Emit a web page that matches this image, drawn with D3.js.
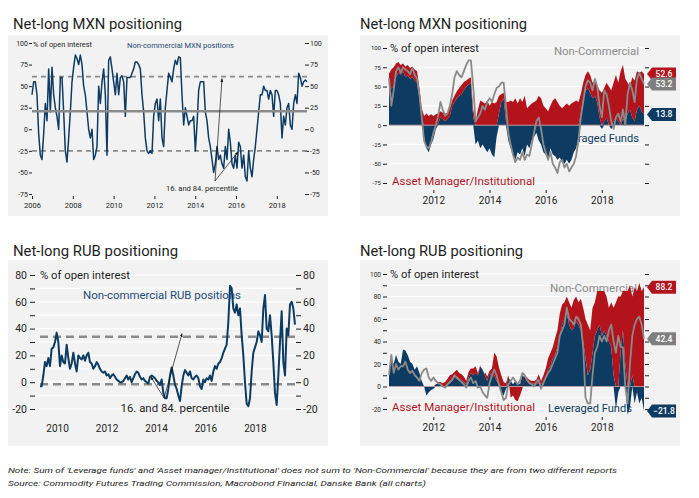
<!DOCTYPE html>
<html><head><meta charset="utf-8">
<script src="https://cdn.jsdelivr.net/npm/d3@7"></script>
<style>body{margin:0;background:#fff;} svg{display:block;font-family:Roboto,"Open Sans",sans-serif;}</style>
</head><body><svg id="c" width="699" height="498"></svg>
<script>
// ---------- DATA ----------
// Panel 1: Non-commercial MXN net positions (% of open interest), 2006.0 - 2019.48
const mxnNCRange = [2006.0, 2019.48];
const mxnNC = [40,55,55,40,-5,-30,-35,-5,30,10,
70,20,72,40,25,15,0,60,60,20,
-25,-38,-10,20,55,72,86,82,75,86,
75,50,40,20,0,-10,0,-35,-30,-20,
50,30,55,70,40,-30,80,84,70,55,
40,65,40,60,62,55,15,60,60,60,
65,70,78,78,75,70,40,20,-10,-25,
-28,-25,-28,15,30,35,10,35,-10,-20,
25,45,65,60,55,70,80,75,84,83,
40,5,25,15,5,10,10,15,-25,5,
45,55,55,55,20,10,-10,-20,-35,-50,
-40,-20,-35,-30,-40,-45,-20,-35,0,-15,
-40,-45,-30,-45,-15,-20,-45,-30,-55,-60,
-25,-45,-55,-35,-20,0,20,40,40,50,
45,45,35,45,40,15,45,45,40,30,
-10,15,5,25,30,5,0,30,40,30,
65,60,50,55,57,55];
const mxnPct = [-25, 61];   // 16th and 84th percentile
const mxnMean = 21;

// Panel 3: Non-commercial RUB net positions, 2009.31 - 2019.62
const rubNCRange = [2009.31, 2019.62];
const rubNC = [-3,-3,5,15,12,18,12,25,26,30,
37,30,12,20,15,14,28,18,10,14,
22,14,8,20,18,17,20,16,20,22,
15,14,10,12,15,13,10,8,7,8,
5,6,3,5,6,4,2,1,0,0,
1,3,5,2,4,0,3,6,8,7,
4,2,3,1,0,-1,4,5,4,3,
1,0,-2,2,-8,-12,-12,-5,5,11,
5,-2,-5,-10,-14,-3,5,9,7,5,
8,3,2,4,5,3,-3,-5,2,0,
3,2,5,1,8,12,10,14,15,18,
22,25,28,45,72,70,55,52,58,50,
55,35,20,0,-16,-18,-12,8,22,26,
30,38,35,30,55,65,40,38,50,35,
15,-8,-17,5,30,53,15,5,40,35,
58,60,55,43];
const rubPct = [-1.5, 34];

// Panels 2 & 4: monthly from June 2010 (TFF report)
const tffStart = 2010.42;
const mxnLF = [37,48,50,62,68,65,70,62,65,60,
62,58,55,35,8,-15,-30,-35,-25,-18,
-5,2,10,8,5,8,12,25,30,35,
38,40,45,50,52,55,10,-25,-20,-30,
-25,-30,-35,-30,-38,-42,-15,15,30,35,
5,-20,-30,-40,-45,-35,-38,-30,-40,-25,
-30,-20,-15,-10,-20,-25,-35,-38,-45,-30,
-38,-40,-45,-42,-48,-50,-45,-50,-45,-35,
-30,-15,15,35,45,48,42,35,38,30,
10,-5,5,10,0,-5,5,10,5,0,
8,5,15,20,10,5,20,25,18,13.8];
const mxnAM = [30,24,25,18,14,13,10,14,13,14,
14,14,15,13,14,12,15,12,14,12,
14,13,8,8,10,8,10,7,8,9,
10,12,11,8,8,7,10,5,20,32,
30,28,32,25,30,28,30,23,10,7,
25,30,32,30,35,28,35,30,38,22,
25,28,30,32,38,35,25,22,18,25,
32,35,30,25,22,25,28,25,28,30,
32,30,25,20,20,22,23,20,20,22,
35,42,43,45,50,45,50,55,50,70,
70,55,40,30,52,53,50,43,52,52.6];
const mxnNCm = [61,25,45,70,75,68,75,72,70,66,
74,65,60,40,10,-20,-28,-30,-22,-10,
0,12,30,20,12,15,25,40,62,70,
65,62,70,78,84,84,50,5,10,15,
25,20,30,35,30,40,48,50,55,55,
25,-10,-25,-38,-48,-42,-45,-35,-45,-38,
-40,-25,-10,5,10,-5,-25,-35,-45,-35,
-50,-55,-62,-48,-45,-55,-50,-60,-55,-50,
-40,-20,10,30,50,58,55,45,60,50,
25,10,45,40,25,5,-5,10,15,5,
20,0,40,55,45,30,60,68,60,53.2];

const rubLF = [15,25,20,28,22,20,33,32,28,22,
20,15,18,12,5,0,-8,-5,-3,-2,
2,3,2,0,-1,2,3,5,8,7,
5,6,4,2,8,12,10,12,10,18,
15,10,5,12,8,10,5,2,-5,-8,
-2,8,5,2,5,3,2,10,8,5,
4,2,3,2,3,2,5,8,15,18,
25,28,35,45,55,60,65,55,50,52,
58,55,50,40,25,10,15,30,45,50,
55,45,50,45,40,35,10,-20,-5,30,
50,20,-25,-18,10,-15,-5,-15,-10,-21.8];
const rubAM = [0,0,0,0,0,0,0,0,0,0,
0,0,0,0,0,0,0,0,0,0,
0,1,2,3,4,5,7,6,5,8,
7,5,5,3,5,4,6,6,2,1,
0,3,4,2,8,20,22,15,10,4,
3,2,-10,-8,-12,-13,-8,-2,2,3,
2,3,2,4,8,3,5,8,10,12,
10,15,15,20,18,15,15,20,20,25,
22,20,28,30,35,45,35,40,30,35,
30,40,35,35,30,40,60,75,80,50,
35,65,85,90,70,88,85,92,85,88.2];
const rubNCm = [10,28,12,20,15,18,18,22,15,12,
14,10,8,5,12,15,16,8,5,8,
5,3,2,0,-1,2,4,6,10,8,
6,4,2,-1,5,8,3,5,-1,0,
-5,-8,-10,3,10,15,10,2,-5,-12,
-10,2,5,8,5,2,5,12,10,6,
3,2,0,4,6,-2,3,8,12,15,
20,25,30,45,50,55,70,60,58,55,
62,60,55,35,-10,-15,-15,10,30,35,
45,40,45,40,50,55,40,30,45,35,
35,0,-15,20,45,55,60,62,55,42.4];

const yearTicksA = [2006,2008,2010,2012,2014,2016,2018];
const yearTicksB = [2010,2012,2014,2016,2018];
const yearTicksC = [2012,2014,2016,2018];

// ---------- STYLE ----------
const BG="#f2f2f2", NAVY="#0d3b61", RED="#b3141c", GRAY="#8a8a8a", INK="#1e1e1e";
const svg = d3.select("#c");

const defs = svg.append("defs");
defs.append("marker").attr("id","arr").attr("viewBox","0 0 10 10").attr("refX",9).attr("refY",5)
  .attr("markerWidth",5).attr("markerHeight",5).attr("orient","auto")
  .append("path").attr("d","M0,1 L10,5 L0,9 Z").attr("fill","#111");

function bg(x0,y0,x1,y1){ svg.append("rect").attr("x",x0).attr("y",y0).attr("width",x1-x0).attr("height",y1-y0).attr("fill",BG); }
function txt(x,y,s,o){
  o=o||{};
  const t=svg.append("text").attr("x",x).attr("y",y).text(s)
    .attr("font-size",o.fs||10).attr("fill",o.fill||INK)
    .attr("text-anchor",o.anchor||"start");
  if(o.len) t.attr("textLength",o.len).attr("lengthAdjust","spacingAndGlyphs");
  if(o.italic) t.attr("font-style","italic");
  if(o.weight) t.attr("font-weight",o.weight);
  return t;
}
function styleAxis(g,fs){
  g.attr("font-size",fs).attr("font-family",'Roboto,"Open Sans",sans-serif');
  g.select(".domain").remove();
  g.selectAll("text").attr("fill",INK);
  g.selectAll("line").attr("stroke",INK);
}
function evenX(arr, range){ return arr.map((v,i)=>range[0]+i*(range[1]-range[0])/(arr.length-1)); }
function monthX(arr){ return arr.map((v,i)=>tffStart+i/12); }

// ---------- PANEL 1 ----------
bg(8,35,328,216);
txt(13,29,"Net-long MXN positioning",{fs:14.5,len:169});
{
  const x=d3.scaleLinear().domain(mxnNCRange).range([32,307]);
  const y=d3.scaleLinear().domain([-75,100]).range([194,43]);
  const ticks=d3.range(-75,101,25);
  styleAxis(svg.append("g").attr("transform","translate(32,0)").call(d3.axisLeft(y).tickValues(ticks).tickSize(3).tickPadding(1).tickFormat(d=>String(d))),7);
  styleAxis(svg.append("g").attr("transform","translate(305,0)").call(d3.axisRight(y).tickValues(ticks).tickSize(4).tickPadding(1).tickFormat(d=>String(d))),7);
  styleAxis(svg.append("g").attr("transform","translate(0,196)").call(d3.axisBottom(x).tickValues(yearTicksA).tickSize(3).tickPadding(4).tickFormat(d3.format("d"))),7.5);
  mxnPct.forEach(v=>svg.append("line").attr("x1",32).attr("x2",307).attr("y1",y(v)).attr("y2",y(v))
    .attr("stroke",GRAY).attr("stroke-width",1.8).attr("stroke-dasharray","5,4"));
  const xs=evenX(mxnNC,mxnNCRange);
  svg.append("path").datum(mxnNC).attr("fill","none").attr("stroke",NAVY).attr("stroke-width",1.5)
    .attr("stroke-linejoin","round")
    .attr("d",d3.line().x((d,i)=>x(xs[i])).y(d=>y(d)));
  svg.append("line").attr("x1",32).attr("x2",307).attr("y1",y(mxnMean)).attr("y2",y(mxnMean))
    .attr("stroke",GRAY).attr("stroke-width",2.5);
  txt(33,46.5,"% of open interest",{fs:6.5,len:59});
  txt(127,48,"Non-commercial MXN positions",{fs:7,len:107,fill:"#1f4a73"});
  svg.append("line").attr("x1",215).attr("y1",181).attr("x2",222).attr("y2",y(mxnPct[1])+2).attr("stroke","#111").attr("stroke-width",0.7).attr("marker-end","url(#arr)");
  svg.append("line").attr("x1",215).attr("y1",181).attr("x2",238).attr("y2",y(mxnPct[0])+1).attr("stroke","#111").attr("stroke-width",0.7).attr("marker-end","url(#arr)");
  txt(202,191,"16. and 84. percentile",{fs:7,anchor:"middle",len:72});
}

// ---------- generic TFF panel ----------
function tffPanel(o){
  bg(360,o.top,680,o.bottom);
  txt(360,o.titleY,o.title,{fs:14.5,len:o.titleLen});
  const x=d3.scaleLinear().domain([tffStart,tffStart+(o.lf.length-1)/12]).range([389,644]);
  const y=d3.scaleLinear().domain(o.ydom).range(o.yrange);
  o.grid.forEach(v=>svg.append("line").attr("x1",388).attr("x2",645).attr("y1",y(v)).attr("y2",y(v)).attr("stroke","#fff").attr("stroke-width",1.2));
  styleAxis(svg.append("g").attr("transform","translate(387,0)").call(d3.axisLeft(y).tickValues(o.grid).tickSize(4).tickPadding(2).tickFormat(o.fmt)),o.tfs);
  styleAxis(svg.append("g").attr("transform","translate(645,0)").call(d3.axisRight(y).tickValues(o.grid).tickSize(4).tickFormat("")),o.tfs);
  styleAxis(svg.append("g").attr("transform",`translate(0,${o.xAxisY})`).call(d3.axisBottom(x).tickValues(yearTicksC).tickSize(3).tickPadding(3.5).tickFormat(d3.format("d"))),10);
  // labels that sit behind the data
  o.under();
  const xs=monthX(o.lf);
  const rows=o.lf.map((v,i)=>({t:xs[i],lf:v,am:o.am[i]}));
  const series=d3.stack().keys(["lf","am"]).offset(d3.stackOffsetDiverging)(rows);
  const area=d3.area().x(d=>x(d.data.t)).y0(d=>y(d[0])).y1(d=>y(d[1]));
  svg.append("path").datum(series[0]).attr("fill",NAVY).attr("d",area);
  svg.append("path").datum(series[1]).attr("fill",RED).attr("d",area);
  svg.append("line").attr("x1",389).attr("x2",644).attr("y1",y(0)).attr("y2",y(0)).attr("stroke","#c9a0a3").attr("stroke-width",0.8);
  svg.append("path").datum(o.nc).attr("fill","none").attr("stroke",GRAY).attr("stroke-width",1.8).attr("stroke-linejoin","round")
    .attr("d",d3.line().x((d,i)=>x(xs[i])).y(d=>y(d)));
  o.over();
  // end-value boxes
  const n=o.lf.length-1, lf=o.lf[n], am=o.am[n], nc=o.nc[n];
  const redTop = lf>0 && am>0 ? lf+am : am;
  const box=(v,pos,fill)=>{
    const yc=y(pos), xt=647;
    svg.append("path").attr("d",`M${xt},${yc} L${xt+5},${yc-6.5} L${xt+29},${yc-6.5} L${xt+29},${yc+6.5} L${xt+5},${yc+6.5} Z`).attr("fill",fill);
    txt(xt+17,yc+3,d3.format(".1f")(v),{fs:8.5,fill:"#fff",anchor:"middle",weight:500});
  };
  box(am,redTop,RED); box(nc,nc,"#7f7f7f"); box(lf,lf,NAVY);
}

// ---------- PANEL 2 ----------
tffPanel({
  top:35,bottom:216,title:"Net-long MXN positioning",titleY:29,titleLen:167,
  lf:mxnLF,am:mxnAM,nc:mxnNCm,ydom:[-75,100],yrange:[183,48],grid:d3.range(-75,101,25),
  fmt:d=>String(d),tfs:6,xAxisY:190,
  under:()=>{ txt(639,141.5,"Leveraged Funds",{fs:10,anchor:"end",fill:NAVY,len:84}); },
  over:()=>{
    txt(390,51.5,"% of open interest",{fs:10,len:89});
    txt(639,54.5,"Non-Commercial",{fs:10,anchor:"end",fill:GRAY,len:85});
    txt(392,184.5,"Asset Manager/Institutional",{fs:10,fill:RED,len:143});
  }
});

// ---------- PANEL 3 ----------
bg(8,260,328,446);
txt(13,256,"Net-long RUB positioning",{fs:14.5,len:165});
{
  const x=d3.scaleLinear().domain(rubNCRange).range([40,295]);
  const y=d3.scaleLinear().domain([-20,80]).range([409,275]);
  const ticks=d3.range(-20,81,10);
  ticks.forEach(v=>svg.append("line").attr("x1",36).attr("x2",296).attr("y1",y(v)).attr("y2",y(v)).attr("stroke","#fff").attr("stroke-width",1.2));
  const fmt=d=>d%20===0?String(d):"";
  styleAxis(svg.append("g").attr("transform","translate(35,0)").call(d3.axisLeft(y).tickValues(ticks).tickSize(5).tickPadding(3).tickFormat(fmt)),10.5);
  styleAxis(svg.append("g").attr("transform","translate(296,0)").call(d3.axisRight(y).tickValues(ticks).tickSize(5).tickPadding(2).tickFormat(fmt)),10.5);
  styleAxis(svg.append("g").attr("transform","translate(0,418)").call(d3.axisBottom(x).tickValues(yearTicksB).tickSize(0).tickPadding(6.5).tickFormat(d3.format("d"))),10);
  rubPct.forEach(v=>svg.append("line").attr("x1",40).attr("x2",295).attr("y1",y(v)).attr("y2",y(v))
    .attr("stroke",GRAY).attr("stroke-width",2.5).attr("stroke-dasharray","8,5"));
  const xs=evenX(rubNC,rubNCRange);
  svg.append("path").datum(rubNC).attr("fill","none").attr("stroke",NAVY).attr("stroke-width",2)
    .attr("stroke-linejoin","round")
    .attr("d",d3.line().x((d,i)=>x(xs[i])).y(d=>y(d)));
  txt(40,278.5,"% of open interest",{fs:10,len:90});
  txt(83,298.5,"Non-commercial RUB positions",{fs:10,len:158,fill:"#1f4a73"});
  svg.append("line").attr("x1",164).attr("y1",398).attr("x2",151).attr("y2",377).attr("stroke","#111").attr("stroke-width",0.7).attr("marker-end","url(#arr)");
  svg.append("line").attr("x1",164).attr("y1",398).attr("x2",182).attr("y2",y(rubPct[1])-3).attr("stroke","#111").attr("stroke-width",0.7).attr("marker-end","url(#arr)");
  txt(175,412,"16. and 84. percentile",{fs:10,anchor:"middle",len:109});
}

// ---------- PANEL 4 ----------
tffPanel({
  top:260,bottom:446,title:"Net-long RUB positioning",titleY:256,titleLen:163,
  lf:rubLF,am:rubAM,nc:rubNCm,ydom:[-20,100],yrange:[409,274],grid:d3.range(-20,101,10),
  fmt:d=>d%20===0?String(d):"",tfs:6.5,xAxisY:417,
  under:()=>{
    txt(548,411.5,"Leveraged Funds",{fs:10,fill:NAVY,len:84});
    txt(637,291.5,"Non-Commercial",{fs:10,anchor:"end",fill:GRAY,len:87});
  },
  over:()=>{
    txt(390,278,"% of open interest",{fs:10,len:89});
    txt(392,411,"Asset Manager/Institutional",{fs:10,fill:RED,len:143});
  }
});

// ---------- FOOTNOTES ----------
txt(8,473,"Note: Sum of 'Leverage funds' and 'Asset manager/Institutional' does not sum to 'Non-Commercial' because they are from two different reports",{fs:7.5,italic:true,len:609});
txt(8,486,"Source: Commodity Futures Trading Commission, Macrobond Financial, Danske Bank (all charts)",{fs:7.5,italic:true,len:418});
</script></body></html>
